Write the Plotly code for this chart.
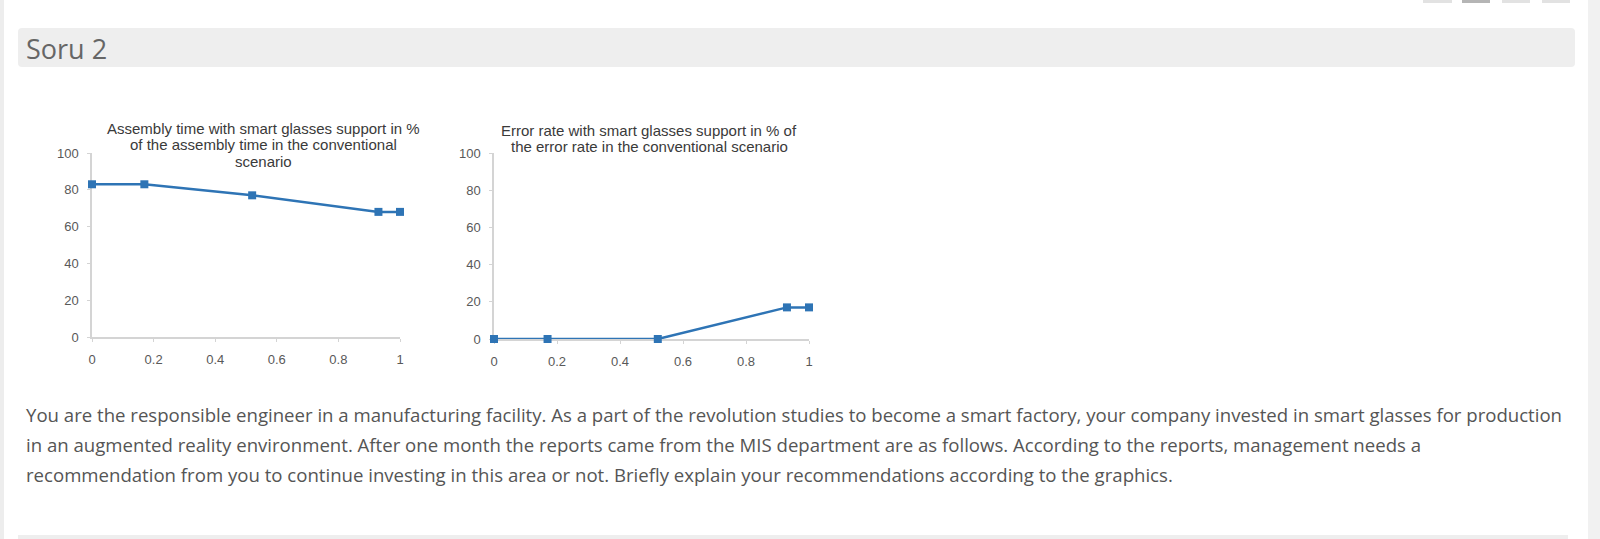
import plotly.graph_objects as go

W, H = 1600, 539

# data
assembly_x = [0, 0.17, 0.52, 0.93, 1.0]
assembly_y = [83, 83, 77, 68, 68]
error_x = [0, 0.17, 0.52, 0.93, 1.0]
error_y = [0, 0, 0, 17, 17]

x_ticks = [0, 0.2, 0.4, 0.6, 0.8, 1.0]
x_ticktext = ['0', '0.2', '0.4', '0.6', '0.8', '1']
y_ticks = [0, 20, 40, 60, 80, 100]

title_1 = ['Assembly time with smart glasses support in %',
           'of the assembly time in the conventional',
           'scenario']
title_2 = ['Error rate with smart glasses support in % of',
           'the error rate in the conventional scenario']
header = 'Soru 2'
paragraph = [
    'You are the responsible engineer in a manufacturing facility. As a part of the revolution studies to become a smart factory, your company invested in smart glasses for production',
    'in an augmented reality environment. After one month the reports came from the MIS department are as follows. According to the reports, management needs a',
    'recommendation from you to continue investing in this area or not. Briefly explain your recommendations according to the graphics.',
]

blue = '#2e74b5'
axis_grey = '#d4d4d4'
tick_font = dict(family='Liberation Sans, Arial', size=13, color='#595959')


def px(x):
    return x / W


def py(y):
    return 1 - y / H


def box(x0, y0, x1, y1, color):
    # rectangle given in page pixels (top-left origin)
    return dict(type='rect', xref='paper', yref='paper',
                x0=px(x0), x1=px(x1), y0=py(y1), y1=py(y0),
                fillcolor=color, line_width=0, layer='below')


fig = go.Figure()
fig.add_trace(go.Scatter(x=assembly_x, y=assembly_y, mode='lines+markers',
                         line=dict(color=blue, width=2.5),
                         marker=dict(symbol='square', size=8, color=blue),
                         cliponaxis=False, xaxis='x', yaxis='y'))
fig.add_trace(go.Scatter(x=error_x, y=error_y, mode='lines+markers',
                         line=dict(color=blue, width=2.5),
                         marker=dict(symbol='square', size=8, color=blue),
                         cliponaxis=False, xaxis='x2', yaxis='y2'))

xaxis_common = dict(range=[0, 1], tickvals=x_ticks, ticktext=x_ticktext,
                    showgrid=False, zeroline=False, showline=True,
                    linecolor=axis_grey, linewidth=1.5, ticks='outside',
                    ticklen=3, tickcolor=axis_grey, tickfont=tick_font,
                    ticklabelstandoff=7, fixedrange=True, layer='below traces')
yaxis_common = dict(range=[0, 100], tickvals=y_ticks,
                    showgrid=False, zeroline=False, showline=True,
                    linecolor=axis_grey, linewidth=1.5, ticks='outside',
                    ticklen=3, tickcolor=axis_grey, tickfont=tick_font,
                    ticklabelstandoff=6, fixedrange=True, layer='below traces')

shapes = [
    # page edges
    box(0, 0, 4, H, '#ededed'),
    box(1588, 0, W, H, '#f1f1f1'),
    # header bar with rounded corners
    dict(type='path', xref='paper', yref='paper',
         path=(f'M {px(22)},{py(28)} L {px(1571)},{py(28)} Q {px(1575)},{py(28)} {px(1575)},{py(32)} '
               f'L {px(1575)},{py(63)} Q {px(1575)},{py(67)} {px(1571)},{py(67)} '
               f'L {px(22)},{py(67)} Q {px(18)},{py(67)} {px(18)},{py(63)} '
               f'L {px(18)},{py(32)} Q {px(18)},{py(28)} {px(22)},{py(28)} Z'),
         fillcolor='#eeeeee', line_width=0, layer='below'),
    # bottom separator
    box(18, 535, 1568, H, '#eeeeee'),
    # toolbar buttons cut off at the top
    box(1423, 0, 1452, 3, '#e2e2e2'),
    box(1462, 0, 1490, 3, '#b5b5b5'),
    box(1502, 0, 1530, 3, '#e2e2e2'),
    box(1542, 0, 1570, 3, '#e2e2e2'),
]

title_font = dict(family='Liberation Sans, Arial', size=15, color='#3a3a3a')
annotations = [
    dict(text=header, x=px(24), y=py(48), xanchor='left', yanchor='middle',
         font=dict(family='Open Sans', size=27, color='#666666')),
]
for i, line in enumerate(title_1):
    annotations.append(dict(text=line, x=px(263), y=py(128 + 16.5 * i), xanchor='center',
                            yanchor='middle', font=title_font))
for i, line in enumerate(title_2):
    annotations.append(dict(text=line, x=px(649), y=py(130 + 16.5 * i), xanchor='center',
                            yanchor='middle', font=title_font))
for i, line in enumerate(paragraph):
    annotations.append(dict(text=line, x=px(24), y=py(414 + 30 * i), xanchor='left', yanchor='middle',
                            font=dict(family='Open Sans', size=18.6, color='#555555')))
for a in annotations:
    a.update(xref='paper', yref='paper', showarrow=False)

fig.update_layout(
    width=W, height=H,
    margin=dict(l=0, r=0, t=0, b=0, autoexpand=False),
    paper_bgcolor='white', plot_bgcolor='white',
    showlegend=False,
    xaxis=dict(domain=[px(92), px(400)], anchor='y', **xaxis_common),
    yaxis=dict(domain=[py(337), py(153)], anchor='x', **yaxis_common),
    xaxis2=dict(domain=[px(494), px(809)], anchor='y2', **xaxis_common),
    yaxis2=dict(domain=[py(339), py(153)], anchor='x2', **yaxis_common),
    shapes=shapes,
    annotations=annotations,
)

# drop the browser's default body margin so the page starts at the corner
fig.write_html('out.html', config={'displayModeBar': False},
               post_script="document.body.style.margin='0';")
